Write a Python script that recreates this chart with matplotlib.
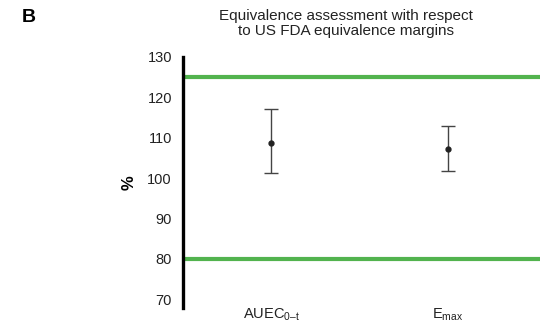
import matplotlib.pyplot as plt
import numpy as np

plt.rcParams['font.family'] = ['Liberation Sans', 'DejaVu Sans']
plt.rcParams['mathtext.fontset'] = 'custom'
plt.rcParams['mathtext.rm'] = 'Liberation Sans'

params = [r'AUEC$_{\mathregular{0–t}}$', r'E$_{\mathregular{max}}$']
ratio = [108.6, 107.1]      # geometric mean ratio (%)
ci_low = [101.3, 101.7]
ci_high = [117.2, 112.8]
margins = [80, 125]         # US FDA equivalence limits
yticks = [70, 80, 90, 100, 110, 120, 130]

fig = plt.figure(figsize=(5.4, 3.27), dpi=100)
ax = fig.add_axes([0.339, 0.058, 0.661, 0.768])

x = np.arange(len(params))
ratio = np.array(ratio)
err = [ratio - np.array(ci_low), np.array(ci_high) - ratio]

for m in margins:
    ax.axhline(m, color='#52b34e', lw=3, zorder=1)

ax.errorbar(x, ratio, yerr=err, fmt='o', color='#222222', ecolor='#444444',
            elinewidth=1, capsize=5, capthick=1, markersize=3.5, zorder=3)

ax.set_xlim(-0.497, 1.52)
ax.set_ylim(67.8, 130)
ax.set_yticks(yticks)
ax.set_xticks(x)
ax.set_xticklabels(params, fontsize=10.5)
ax.tick_params(axis='y', length=0, pad=8, labelsize=10.5, labelcolor='#222222')
ax.tick_params(axis='x', length=0, pad=-1, labelcolor='#222222')

for s in ['top', 'right', 'bottom']:
    ax.spines[s].set_visible(False)
ax.spines['left'].set_linewidth(2.4)

ax.set_ylabel('%', fontsize=12, fontweight='bold', labelpad=8)

fig.text(0.64, 0.928, 'Equivalence assessment with respect\nto US FDA equivalence margins',
         ha='center', va='center', fontsize=11, color='#222222', linespacing=1.15)
fig.text(0.04, 0.945, 'B', fontsize=14, fontweight='bold', va='center')

plt.savefig('out.png', dpi=100)
